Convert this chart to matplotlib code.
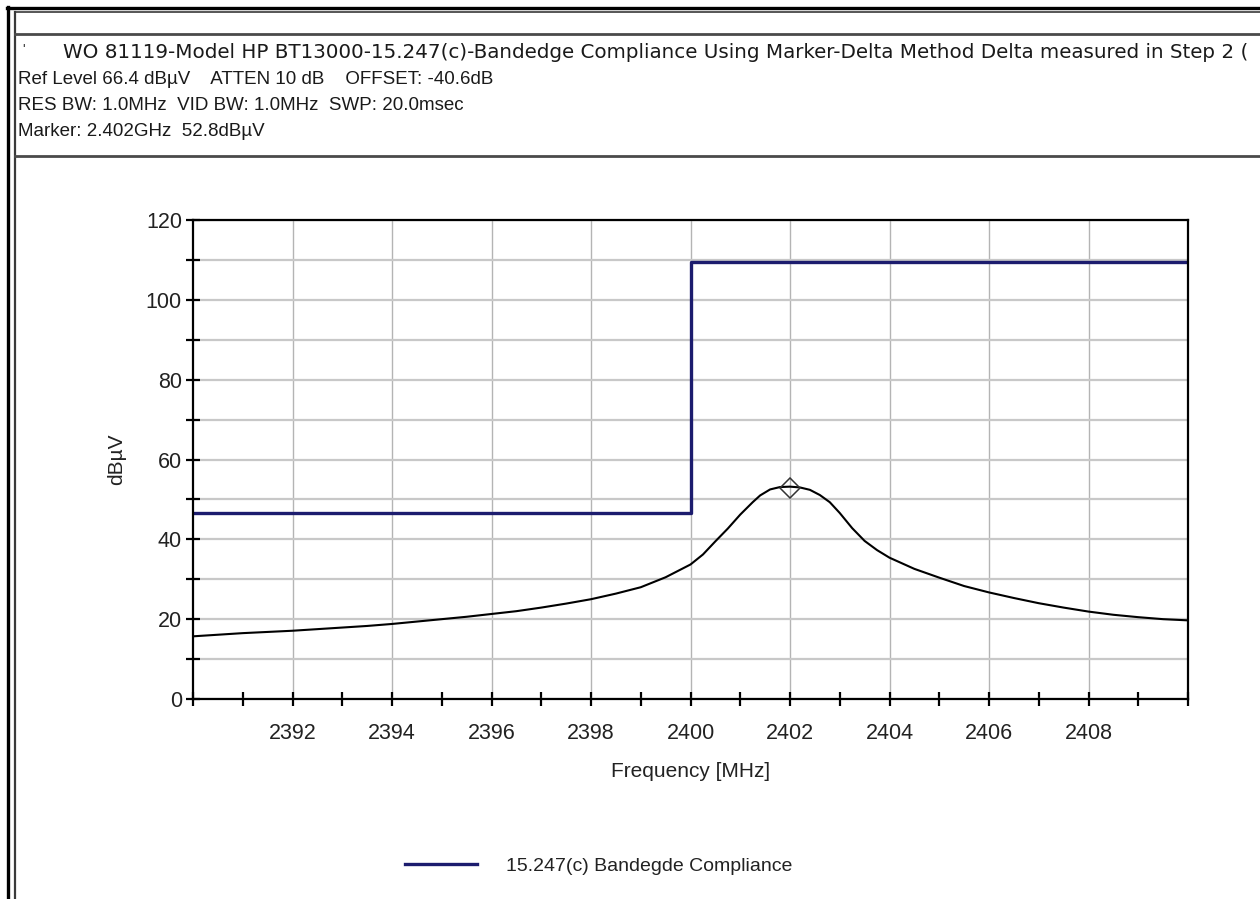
import matplotlib
matplotlib.use("Agg")
import matplotlib.pyplot as plt
from matplotlib.lines import Line2D
from matplotlib.ticker import FixedLocator, MultipleLocator

# ---- data -------------------------------------------------------------
trace_freq = [2390, 2390.5, 2391, 2391.5, 2392, 2392.5, 2393, 2393.5, 2394,
              2394.5, 2395, 2395.5, 2396, 2396.5, 2397, 2397.5, 2398, 2398.5,
              2399, 2399.5, 2400, 2400.25, 2400.5, 2400.75, 2401, 2401.25,
              2401.4, 2401.6, 2401.8, 2402, 2402.2, 2402.4, 2402.6, 2402.8,
              2403, 2403.25, 2403.5, 2403.75, 2404, 2404.5, 2405, 2405.5,
              2406, 2406.5, 2407, 2407.5, 2408, 2408.5, 2409, 2409.5, 2410]
trace_level = [15.7, 16.1, 16.5, 16.8, 17.1, 17.5, 17.9, 18.3, 18.8,
               19.4, 20.0, 20.6, 21.3, 22.0, 22.9, 23.9, 25.0, 26.4,
               28.0, 30.5, 33.7, 36.2, 39.5, 42.7, 46.2, 49.3,
               51.0, 52.5, 53.1, 53.2, 53.0, 52.4, 51.1, 49.3,
               46.6, 42.8, 39.6, 37.3, 35.4, 32.6, 30.4, 28.3,
               26.7, 25.3, 24.0, 22.9, 21.9, 21.1, 20.5, 20.0, 19.7]

limit_freq = [2390, 2400, 2400, 2410]
limit_level = [46.5, 46.5, 109.4, 109.4]
limit_name = "15.247(c) Bandegde Compliance"

marker_freq = 2402.0
marker_level = 52.8

x_major = [2392, 2394, 2396, 2398, 2400, 2402, 2404, 2406, 2408]
y_major = [0, 20, 40, 60, 80, 100, 120]

header_lines = [
    "WO 81119-Model HP BT13000-15.247(c)-Bandedge Compliance Using Marker-Delta Method Delta measured in Step 2 (",
    "Ref Level 66.4 dB\u00b5V    ATTEN 10 dB    OFFSET: -40.6dB",
    "RES BW: 1.0MHz  VID BW: 1.0MHz  SWP: 20.0msec",
    "Marker: 2.402GHz  52.8dB\u00b5V",
]

# ---- figure ------------------------------------------------------------
W, H = 1260, 899
plt.rcParams["font.family"] = ["Liberation Sans", "DejaVu Sans"]
fig = plt.figure(figsize=(W / 100, H / 100), dpi=100)
fig.patch.set_facecolor("white")


def fx(px):
    return px / W


def fy(py):
    return 1 - py / H


def hline(y, x0, x1, color, lw):
    fig.add_artist(Line2D([fx(x0), fx(x1)], [fy(y), fy(y)],
                          transform=fig.transFigure, color=color, lw=lw))


def vline(x, y0, y1, color, lw):
    fig.add_artist(Line2D([fx(x), fx(x)], [fy(y0), fy(y1)],
                          transform=fig.transFigure, color=color, lw=lw))


# frame around the report panel
hline(8, 7, W, "black", 2.4)
vline(8, 7, H, "black", 2.4)
hline(12, 15, W, "#3a3a3a", 1.2)
vline(15, 12, H, "#3a3a3a", 1.6)
hline(34, 15, W, "#4a4a4a", 2.0)
hline(156, 15, W, "#4a4a4a", 2.0)

# header text
fig.text(fx(22), fy(50), "'", fontsize=10, color="#333333", va="center")
fig.text(fx(63), fy(53), header_lines[0], fontsize=14.3, color="#1a1a1a",
         va="center", ha="left", family=["DejaVu Sans"])
for i, line in enumerate(header_lines[1:]):
    fig.text(fx(18), fy(79 + 26 * i), line, fontsize=13.5, color="#1a1a1a",
             va="center", ha="left")

# ---- plot --------------------------------------------------------------
ax = fig.add_axes([fx(193), fy(699), fx(1188) - fx(193), fy(220) - fy(699)])
ax.set_xlim(2390, 2410)
ax.set_ylim(0, 120)

ax.xaxis.set_major_locator(FixedLocator(x_major))
ax.xaxis.set_minor_locator(MultipleLocator(1))
ax.yaxis.set_major_locator(FixedLocator(y_major))
ax.yaxis.set_minor_locator(MultipleLocator(10))

ax.grid(True, which="major", axis="x", color="#b4b4b4", lw=1.0)
ax.grid(True, which="both", axis="y", color="#c8c8c8", lw=1.6)
ax.set_axisbelow(True)

ax.tick_params(which="both", direction="inout", length=10, width=1.6,
               color="black", labelsize=15.5, labelcolor="#222222")
ax.tick_params(axis="x", which="major", pad=12)
ax.tick_params(axis="y", which="major", pad=3)
for s in ax.spines.values():
    s.set_color("black")
    s.set_linewidth(1.6)
ax.tick_params(top=False, right=False, which="both")

ax.plot(limit_freq, limit_level, color="#1c1c6e", lw=2.4, label=limit_name)
ax.plot(trace_freq, trace_level, color="black", lw=1.5)
ax.plot([marker_freq], [marker_level], marker="D", ms=10, mfc="none",
        mec="#333333", mew=1.1, ls="none")

ax.set_xlabel("Frequency [MHz]", fontsize=15, color="#222222", labelpad=13)
ax.set_ylabel("dB\u00b5V", fontsize=15, color="#222222", labelpad=14)

handles, labels = ax.get_legend_handles_labels()
fig.legend(handles, labels, loc="center", bbox_to_anchor=(fx(599), fy(866)),
           frameon=False, fontsize=14, handlelength=3.7, handletextpad=1.5,
           labelcolor="#222222")

fig.savefig("out.png", dpi=100, facecolor="white")
